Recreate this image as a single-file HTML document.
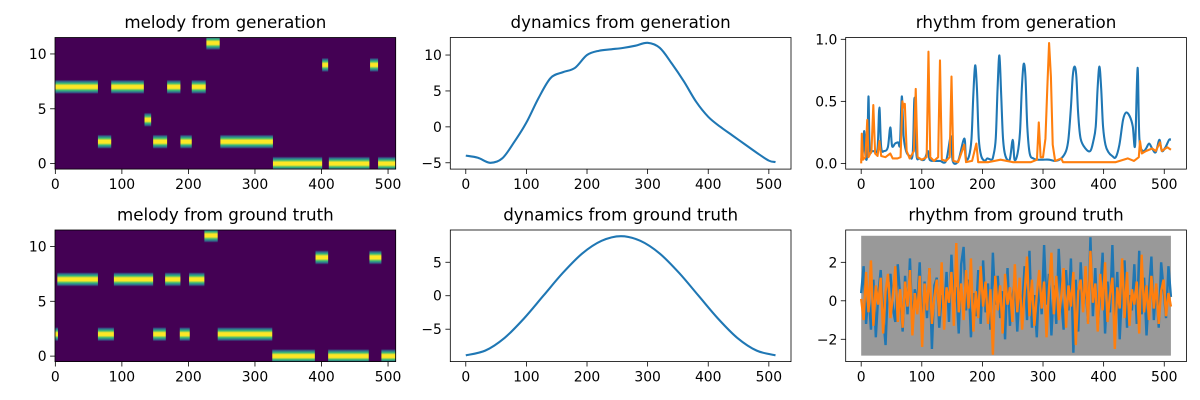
<!DOCTYPE html>
<html><head><meta charset="utf-8"><style>
html,body{margin:0;padding:0;background:#fff;}
svg{display:block;font-family:"DejaVu Sans","Liberation Sans",sans-serif;}
</style></head><body>
<svg id="fig" width="1200" height="400" viewBox="0 0 1200 400" xmlns="http://www.w3.org/2000/svg">
<defs>
<linearGradient id="noteGrad" x1="0" y1="0" x2="0" y2="1">
<stop offset="0" stop-color="#440154"/>
<stop offset="0.12" stop-color="#31688e"/>
<stop offset="0.25" stop-color="#35b779"/>
<stop offset="0.4" stop-color="#fde725"/>
<stop offset="0.6" stop-color="#fde725"/>
<stop offset="0.75" stop-color="#35b779"/>
<stop offset="0.88" stop-color="#31688e"/>
<stop offset="1" stop-color="#440154"/>
</linearGradient>
</defs>
</svg>
<script>
// ---- melody data: [pitch, start, end]
const melGenPitch=[7,7,7,7,11,4,2,2,2,2,0,0,0,9,9];
const melGenStart=[0,84,168,205,227,134,64,147,188,248,327,411,485,401,473];
const melGenEnd=[64,133,188,226,247,144,84,168,205,327,401,472,511,410,485];
const melGtPitch=[7,7,7,7,11,2,2,2,2,2,0,0,0,9,9];
const melGtStart=[3,88,165,201,224,0,64,147,187,244,326,410,490,391,472];
const melGtEnd=[64,147,188,224,244,4,88,166,202,326,390,471,511,410,490];
// ---- dynamics
const dynGenX=[0,20,40,60,80,100,120,140,160,180,200,220,240,260,280,300,320,340,360,380,400,420,440,460,480,500,511];
const dynGenY=[-4.0,-4.3,-5.0,-4.4,-2.1,0.6,4.0,6.8,7.6,8.2,10.0,10.6,10.8,11.0,11.3,11.7,11.0,8.8,6.3,3.5,1.4,0.0,-1.2,-2.4,-3.6,-4.7,-4.9];
const dynGtX=[0,32,64,96,128,160,192,224,256,288,320,352,384,416,448,480,511];
const dynGtY=[-8.9,-8.2,-6.3,-3.4,0,3.4,6.3,8.2,8.9,8.2,6.3,3.4,0,-3.4,-6.3,-8.2,-8.9];
// ---- rhythm from generation
const rgBlueX=[0,3,5,7,10,12,14,18,22,27,30,33,38,44,48,51,56,61,64,67,70,74,80,85,88,91,96,104,110,113,120,130,140,148,151,160,170,173,178,182,185,188,191,194,198,204,208,215,218,222,225,228,231,234,238,245,250,253,258,262,265,268,271,274,278,284,290,300,310,320,330,338,342,346,349,352,355,358,362,370,378,383,387,390,393,396,399,403,408,414,420,426,432,437,443,448,452,456,459,465,470,475,480,486,492,496,502,508,511];
const rgBlueY=[0.03,0.1,0.26,0.06,0.08,0.54,0.12,0.1,0.1,0.12,0.45,0.13,0.1,0.13,0.29,0.14,0.16,0.17,0.16,0.54,0.22,0.1,0.06,0.08,0.53,0.08,0.04,0.03,0.1,0.03,0.02,0.02,0.02,0.22,0.02,0.02,0.2,0.04,0.06,0.2,0.55,0.79,0.6,0.2,0.06,0.02,0.04,0.03,0.06,0.2,0.6,0.87,0.55,0.2,0.06,0.03,0.19,0.03,0.08,0.25,0.6,0.8,0.7,0.3,0.08,0.04,0.03,0.03,0.03,0.02,0.04,0.1,0.2,0.45,0.7,0.78,0.7,0.4,0.2,0.12,0.1,0.18,0.3,0.6,0.78,0.6,0.3,0.15,0.09,0.06,0.05,0.15,0.35,0.41,0.38,0.3,0.15,0.77,0.2,0.1,0.12,0.16,0.12,0.09,0.19,0.1,0.13,0.19,0.19];
const rgOrangeX=[0,1,3,7,10,12,17,20,23,27,30,33,40,48,52,60,65,68,70,72,75,80,87,90,93,100,108,111,114,120,127,130,133,140,146,149,152,160,170,173,183,190,193,210,230,250,280,290,293,296,300,304,307,310,313,316,320,330,333,380,420,440,450,458,460,463,470,480,486,493,496,505,511];
const rgOrangeY=[0.0,0.24,0.03,0.05,0.35,0.05,0.1,0.47,0.08,0.06,0.18,0.06,0.05,0.08,0.04,0.04,0.05,0.5,0.45,0.48,0.1,0.04,0.1,0.6,0.05,0.03,0.05,0.9,0.05,0.02,0.05,0.83,0.03,0.02,0.05,0.7,0.02,0.01,0.15,0.01,0.02,0.16,0.01,0.01,0.03,0.01,0.01,0.03,0.33,0.05,0.05,0.2,0.6,0.97,0.7,0.15,0.02,0.04,0.01,0.01,0.01,0.04,0.02,0.05,0.18,0.08,0.1,0.12,0.1,0.17,0.1,0.13,0.11];
// ---- rhythm from ground truth
const rtBandLow=-2.85, rtBandHigh=3.38, rtBandX0=0, rtBandX1=511;
const rtBlue=[0.4,1.8,-1.2,0.5,-1.5,1.1,-1.9,0.3,1.6,-0.8,-2.3,0.9,1.4,-0.4,-1.1,1.9,0.2,-1.6,1.3,-0.7,2.2,-1.3,0.6,-0.2,2.0,-1.8,1.0,-0.9,1.7,-2.5,0.8,1.2,-1.4,0.3,-0.6,1.5,-1.1,2.4,-0.3,0.7,-1.7,1.9,2.8,-0.5,1.1,-1.9,0.4,-0.8,1.6,-1.2,2.1,-0.6,0.9,-1.5,2.5,-0.2,1.3,-0.9,0.5,-2.0,1.7,-1.3,0.2,1.0,-1.6,0.6,-0.4,1.8,-1.0,2.6,-1.4,0.3,-1.9,1.2,-0.7,2.9,-0.2,1.4,-1.8,0.8,-1.2,2.7,0.1,-1.5,1.6,-0.5,2.2,-2.7,1.1,-1.6,2.0,-0.3,0.9,-1.1,3.3,-0.8,1.7,-1.3,0.4,2.5,-1.7,1.0,-0.6,2.9,-0.9,1.5,-2.0,0.7,2.1,-1.4,0.3,-0.5,1.9,-1.2,2.6,-0.7,1.2,-1.8,0.5,2.3,-1.0,0.8,-1.4,2.0,0.6,-0.9,1.8,0.2];
const rtOrange=[0.1,-1.0,1.5,-0.6,2.1,-1.3,0.8,-0.2,1.2,-1.7,0.5,1.4,-0.9,0.3,1.8,-1.1,0.6,-1.4,1.0,-0.3,1.6,-1.8,0.4,-0.7,1.3,-2.4,0.9,-0.5,1.7,-1.2,0.2,1.1,-0.8,2.0,-1.5,0.7,-0.1,1.5,-1.3,3.0,-0.6,0.9,-1.0,1.6,-0.4,2.2,-1.6,0.5,-0.9,1.8,-0.3,1.0,-1.2,0.6,-2.8,1.3,-0.5,0.8,-1.7,1.4,-0.2,0.7,-1.1,1.9,-0.6,1.2,-1.5,0.4,2.3,-0.8,1.1,-1.3,0.3,1.6,-0.4,1.0,-1.9,0.6,2.5,-0.7,1.3,-1.0,0.2,1.7,-1.4,0.8,-0.3,1.5,-2.3,0.5,1.1,-0.6,1.8,-1.2,2.6,-0.1,0.9,-1.6,1.4,-0.5,2.0,-1.1,0.3,1.2,-2.5,0.7,-0.4,2.2,-0.9,1.5,-1.3,0.6,-0.2,1.0,-1.7,2.4,-0.6,0.8,-1.0,1.3,-0.4,0.9,-1.2,0.5,1.1,-0.8,0.4,-0.3];
// ---- ticks
const xTicks=[0,100,200,300,400,500];
const melYTicks=[0,5,10];
const dynGenYTicks=[-5,0,5,10];
const dynGtYTicks=[-5,0,5];
const rgYTicks=[0,0.5,1.0];
const rgYLabels=["0.0","0.5","1.0"];
const rtYTicks=[-2,0,2];

const NS="http://www.w3.org/2000/svg";
const fig=document.getElementById('fig');
function el(tag,attrs,parent){const e=document.createElementNS(NS,tag);for(const k in attrs)e.setAttribute(k,attrs[k]);(parent||fig).appendChild(e);return e;}
const fmt=v=>(v<0?"\u2212"+(-v):String(v));

let clipId=0;
function makeAxes(name,box,xlim,ylim){
  const g=el('g',{});
  
  
  const sx=v=>box.x+(v-xlim[0])/(xlim[1]-xlim[0])*box.w;
  const sy=v=>box.y+box.h-(v-ylim[0])/(ylim[1]-ylim[0])*box.h;
  const id='c'+(clipId++);
  const cp=el('clipPath',{id:id},g);
  el('rect',{x:box.x,y:box.y,width:box.w,height:box.h},cp);
  const plot=el('g',{'clip-path':'url(#'+id+')'},g);
  
  
  return {g,plot,sx,sy,box};
}
function finishAxes(ax,title,xt,xl,yt,yl){
  const b=ax.box,g=ax.g;
  const frame=el('rect',{x:b.x,y:b.y,width:b.w,height:b.h,fill:'none',stroke:'#000','stroke-width':0.8},g);
  
  
  xt.forEach((v,i)=>{
    const X=ax.sx(v);
    el('line',{x1:X,x2:X,y1:b.y+b.h,y2:b.y+b.h+4.9,stroke:'#000','stroke-width':0.8},g);
    const t=el('text',{x:X,y:b.y+b.h+20,'font-size':13.9,'text-anchor':'middle',fill:'#000'},g);
    t.textContent=xl?xl[i]:fmt(v);
    
    
  });
  yt.forEach((v,i)=>{
    const Y=ax.sy(v);
    el('line',{x1:b.x-4.9,x2:b.x,y1:Y,y2:Y,stroke:'#000','stroke-width':0.8},g);
    const t=el('text',{x:b.x-8.4,y:Y+5,'font-size':13.9,'text-anchor':'end',fill:'#000'},g);
    t.textContent=yl?yl[i]:fmt(v);
    
    
  });
  const tt=el('text',{x:b.x+b.w/2,y:b.y-9.5,'font-size':16.7,'text-anchor':'middle',fill:'#000'},g);
  tt.textContent=title;
  
  
}
function smoothPath(xs,ys,ax){
  const P=xs.map((x,i)=>[ax.sx(x),ax.sy(ys[i])]);
  let d='M'+P[0][0]+','+P[0][1];
  for(let i=0;i<P.length-1;i++){
    const p0=P[Math.max(0,i-1)],p1=P[i],p2=P[i+1],p3=P[Math.min(P.length-1,i+2)];
    const c1=[p1[0]+(p2[0]-p0[0])/6,p1[1]+(p2[1]-p0[1])/6];
    const c2=[p2[0]-(p3[0]-p1[0])/6,p2[1]-(p3[1]-p1[1])/6];
    d+=' C'+c1[0]+','+c1[1]+' '+c2[0]+','+c2[1]+' '+p2[0]+','+p2[1];
  }
  return d;
}
function linePath(xs,ys,ax){return xs.map((x,i)=>(i?'L':'M')+ax.sx(x)+','+ax.sy(ys[i])).join(' ');}

const colL=[55,450.3,845.7], W=340.7;
const rowT=[37.5,230], H=131.6;
const lineX=[-25.55,536.55];

function melody(name,title,box,P,S,E){
  const ax=makeAxes(name,box,[-0.5,511.5],[-0.5,11.5]);
  const bg=el('rect',{x:box.x,y:box.y,width:box.w,height:box.h,fill:'#440154'},ax.plot);
  
  
  P.forEach((p,i)=>{
    const x0=ax.sx(S[i]),x1=ax.sx(E[i]),y0=ax.sy(p+0.65),y1=ax.sy(p-0.65);
    const r=el('rect',{x:x0,y:y0,width:x1-x0,height:y1-y0,fill:'url(#noteGrad)'},ax.plot);
    
    
  });
  finishAxes(ax,title,xTicks,null,melYTicks,null);
}
melody('melody-generation-axes','melody from generation',{x:colL[0],y:rowT[0],w:W,h:H},melGenPitch,melGenStart,melGenEnd);
melody('melody-ground-truth-axes','melody from ground truth',{x:colL[0],y:rowT[1],w:W,h:H},melGtPitch,melGtStart,melGtEnd);

{
  const ax=makeAxes('dynamics-generation-axes',{x:colL[1],y:rowT[0],w:W,h:H},lineX,[-5.88,12.44]);
  const p=el('path',{d:smoothPath(dynGenX,dynGenY,ax),fill:'none',stroke:'#1f77b4','stroke-width':2.08},ax.plot);
  
  
  finishAxes(ax,'dynamics from generation',xTicks,null,dynGenYTicks,null);
}
{
  const ax=makeAxes('dynamics-ground-truth-axes',{x:colL[1],y:rowT[1],w:W,h:H},lineX,[-9.84,9.82]);
  const p=el('path',{d:smoothPath(dynGtX,dynGtY,ax),fill:'none',stroke:'#1f77b4','stroke-width':2.08},ax.plot);
  
  
  finishAxes(ax,'dynamics from ground truth',xTicks,null,dynGtYTicks,null);
}
{
  const ax=makeAxes('rhythm-generation-axes',{x:colL[2],y:rowT[0],w:W,h:H},lineX,[-0.046,1.0145]);
  const p1=el('path',{d:smoothPath(rgBlueX,rgBlueY,ax),fill:'none',stroke:'#1f77b4','stroke-width':2.08,'stroke-linejoin':'round'},ax.plot);
  
  
  const p2=el('path',{d:linePath(rgOrangeX,rgOrangeY,ax),fill:'none',stroke:'#ff7f0e','stroke-width':2.08,'stroke-linejoin':'round'},ax.plot);
  
  
  finishAxes(ax,'rhythm from generation',xTicks,null,rgYTicks,rgYLabels);
}
{
  const ax=makeAxes('rhythm-ground-truth-axes',{x:colL[2],y:rowT[1],w:W,h:H},lineX,[-3.16,3.68]);
  const band=el('rect',{x:ax.sx(rtBandX0),y:ax.sy(rtBandHigh),width:ax.sx(rtBandX1)-ax.sx(rtBandX0),height:ax.sy(rtBandLow)-ax.sy(rtBandHigh),fill:'#999999'},ax.plot);
  
  
  const bx=rtBlue.map((v,i)=>i*511/(rtBlue.length-1));
  const ox=rtOrange.map((v,i)=>i*511/(rtOrange.length-1));
  const p1=el('path',{d:linePath(bx,rtBlue,ax),fill:'none',stroke:'#1f77b4','stroke-width':2.4},ax.plot);
  
  
  const p2=el('path',{d:linePath(ox,rtOrange,ax),fill:'none',stroke:'#ff7f0e','stroke-width':2.4},ax.plot);
  
  
  finishAxes(ax,'rhythm from ground truth',xTicks,null,rtYTicks,null);
}
</script>
</body></html>
